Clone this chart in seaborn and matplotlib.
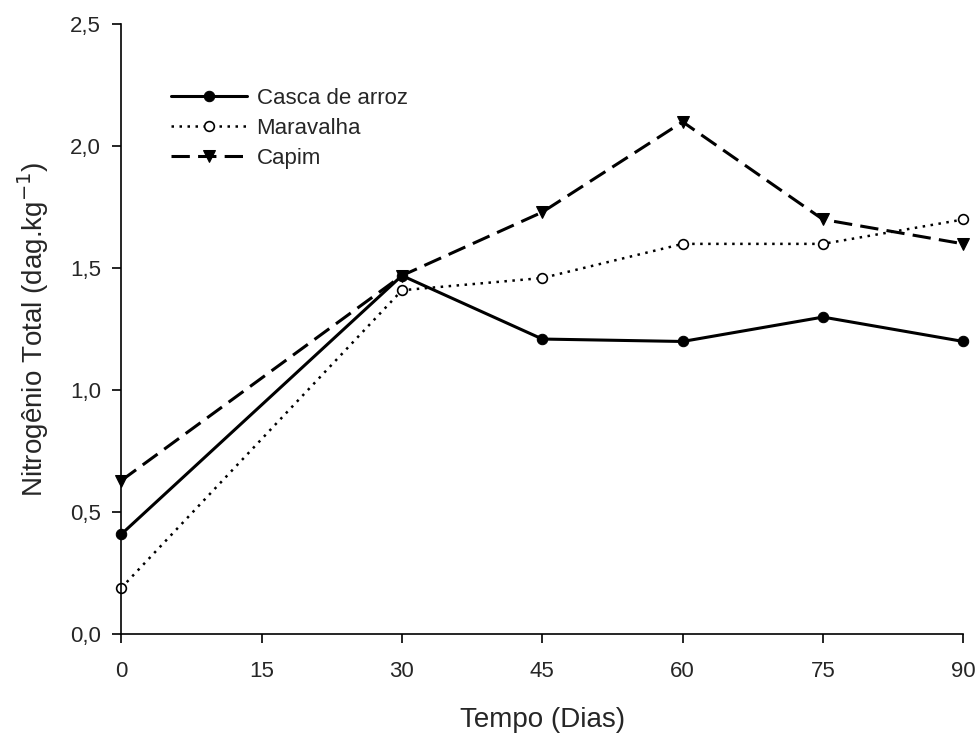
import pandas as pd
import numpy as np
import matplotlib
matplotlib.use("Agg")
import matplotlib.pyplot as plt
import seaborn as sns

# data
dias = [0, 30, 45, 60, 75, 90]
casca_de_arroz = [0.41, 1.47, 1.21, 1.20, 1.30, 1.20]
maravalha = [0.19, 1.41, 1.46, 1.60, 1.60, 1.70]
capim = [0.63, 1.47, 1.73, 2.10, 1.70, 1.60]

x_ticks = [0, 15, 30, 45, 60, 75, 90]
y_ticks = [0.0, 0.5, 1.0, 1.5, 2.0, 2.5]
y_tick_labels = ['0,0', '0,5', '1,0', '1,5', '2,0', '2,5']

sns.set_style('ticks')
plt.rcParams['font.family'] = ['Liberation Sans', 'DejaVu Sans']

fig = plt.figure(figsize=(9.78, 7.35), dpi=100)
ax = fig.add_axes([0.124, 0.137, 0.861, 0.830])

sns.lineplot(x=dias, y=casca_de_arroz, ax=ax, color='black', linewidth=2.2,
             linestyle='-', marker='o', markersize=7.5, markerfacecolor='black',
             markeredgecolor='black', label='Casca de arroz', clip_on=False)
sns.lineplot(x=dias, y=maravalha, ax=ax, color='black', linewidth=1.8,
             linestyle=(0, (1, 2.2)), marker='o', markersize=7,
             markerfacecolor='white', markeredgecolor='black',
             markeredgewidth=1.2, label='Maravalha', clip_on=False)
sns.lineplot(x=dias, y=capim, ax=ax, color='black', linewidth=2.2,
             linestyle=(0, (6, 2.7)), marker='v', markersize=8,
             markerfacecolor='black', markeredgecolor='black',
             label='Capim', clip_on=False)

ax.set_xlim(0, 90)
ax.set_ylim(0, 2.5)
ax.set_xticks(x_ticks)
ax.set_xticklabels([str(t) for t in x_ticks], fontsize=16)
ax.set_yticks(y_ticks)
ax.set_yticklabels(y_tick_labels, fontsize=16)
ax.tick_params(axis='both', direction='out', length=6.5, width=1.2,
               color='black')
ax.tick_params(axis='x', pad=13)
ax.tick_params(axis='y', pad=8)

for side in ['top', 'right']:
    ax.spines[side].set_visible(False)
for side in ['left', 'bottom']:
    ax.spines[side].set_linewidth(1.2)
    ax.spines[side].set_color('black')

ax.set_xlabel('Tempo (Dias)', fontsize=20, labelpad=18)
ax.set_ylabel('Nitrogênio Total (dag.kg$^{-1}$)', fontsize=20, labelpad=14)

leg = ax.legend(loc='upper left', bbox_to_anchor=(0.059, 0.896), frameon=False,
                fontsize=16, handlelength=3.4, handletextpad=0.45,
                labelspacing=0.41, borderpad=0, borderaxespad=0)

fig.savefig('out.png', dpi=100)
